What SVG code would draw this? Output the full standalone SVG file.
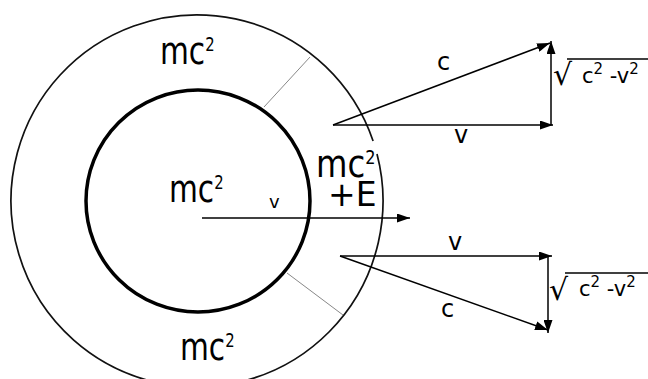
<svg xmlns="http://www.w3.org/2000/svg" width="648" height="379" viewBox="0 0 648 379">
<defs>
<marker id="ah" markerUnits="userSpaceOnUse" markerWidth="13" markerHeight="9" refX="13" refY="4.5" orient="auto">
<path d="M0,0 L13,4.5 L0,9 z" fill="#000"/>
</marker>
<style>
.big{font-family:"DejaVu Sans","Liberation Sans",sans-serif;font-size:38px;fill:#000}
.sup{font-size:19px}
.ssup{font-size:15px}
.lbl{font-family:"DejaVu Sans","Liberation Sans",sans-serif;font-size:24px;fill:#000}
.sq{font-family:"DejaVu Sans","Liberation Sans",sans-serif;font-size:21px;fill:#000}
.arr{stroke:#000;stroke-width:1.5;fill:none;marker-end:url(#ah)}
.thin{stroke:#888;stroke-width:1;fill:none}
.bar{stroke:#000;stroke-width:1.3}
</style>
</defs>
<rect width="648" height="379" fill="#fff"/>
<g id="outer-ring">
<path d="M377,154 A186,186 0 1 1 373.1,141" fill="none" stroke="#111" stroke-width="1.7"/>
</g>
<g id="inner-core">
<ellipse cx="198" cy="201" rx="112" ry="111" fill="none" stroke="#000" stroke-width="3.5"/>
</g>
<g id="label-top"><text class="big" transform="translate(160,64) scale(0.78,1)">mc<tspan class="sup" dy="-13">2</tspan></text></g>
<g id="label-inner"><text class="big" transform="translate(169,202) scale(0.78,1)">mc<tspan class="sup" dy="-13">2</tspan></text></g>
<g id="label-bottom"><text class="big" transform="translate(180,360) scale(0.78,1)">mc<tspan class="sup" dy="-13">2</tspan></text></g>
<g id="label-right">
<text class="big" transform="translate(316,177) scale(0.85,1)">mc<tspan class="sup" dy="-13">2</tspan></text>
<text class="big" style="font-size:33px" x="328" y="206">+E</text>
</g>
<g id="label-v"><text class="lbl" style="font-size:18px" x="269" y="208">v</text></g>
<g id="triangle-top">
<text class="lbl" x="437" y="70">c</text>
<text class="lbl" x="454" y="143">v</text>
<text class="sq" style="font-size:30px" x="553" y="85">√</text>
<line class="bar" x1="567" y1="59" x2="648" y2="59"/>
<text class="sq" x="582" y="83">c<tspan class="ssup" dy="-9">2</tspan><tspan dy="9"> -v</tspan><tspan class="ssup" dy="-9">2</tspan></text>
</g>
<g id="triangle-bottom">
<text class="lbl" x="448" y="250">v</text>
<text class="lbl" x="441" y="317">c</text>
<text class="sq" style="font-size:30px" x="549" y="300">√</text>
<line class="bar" x1="565" y1="273" x2="648" y2="273"/>
<text class="sq" x="579" y="296">c<tspan class="ssup" dy="-9">2</tspan><tspan dy="9"> -v</tspan><tspan class="ssup" dy="-9">2</tspan></text>
</g>
<g id="connectors">
<line class="thin" x1="264" y1="107" x2="310" y2="57"/>
<line class="thin" x1="287" y1="273" x2="343" y2="315"/>
<line class="arr" x1="202" y1="218" x2="410" y2="218"/>
<line class="arr" x1="333" y1="125" x2="553" y2="125"/>
<line class="arr" x1="333" y1="125" x2="550" y2="43"/>
<line class="arr" x1="551" y1="125" x2="551" y2="41"/>
<line class="arr" x1="340" y1="256" x2="552" y2="256"/>
<line class="arr" x1="340" y1="256" x2="548" y2="330"/>
<line class="arr" x1="548" y1="256" x2="548" y2="333"/>
</g>
</svg>
